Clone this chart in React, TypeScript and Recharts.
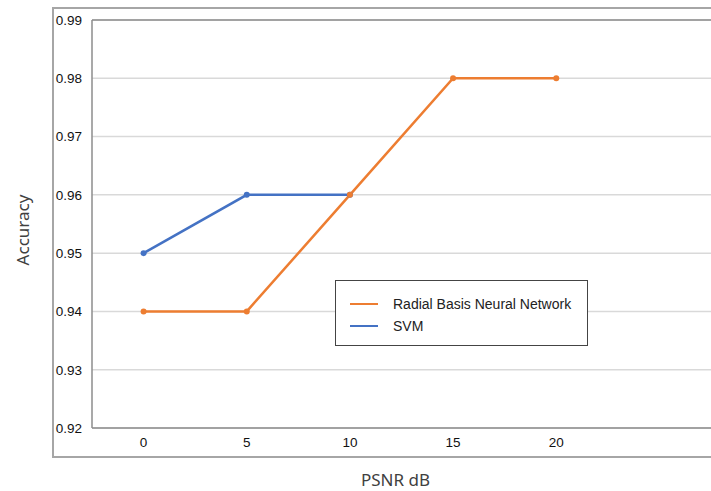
import { LineChart, Line, XAxis, YAxis, CartesianGrid, Label, ReferenceLine } from 'recharts'

const psnr = [0, 5, 10, 15, 20]
const rbnn = [0.94, 0.94, 0.96, 0.98, 0.98]
const svm = [0.95, 0.96, 0.96, null, null]
const yTicks = [0.92, 0.93, 0.94, 0.95, 0.96, 0.97, 0.98, 0.99]

const ORANGE = '#ED7D31'
const BLUE = '#4472C4'
const FONT = '"Liberation Sans", Arial, sans-serif'

const data = psnr.map((x, i) => ({ x, rbnn: rbnn[i], svm: svm[i] }))

// legend sits over the plot, drawn as a plain box
function LegendBox() {
  const items = [
    { name: 'Radial Basis Neural Network', color: ORANGE },
    { name: 'SVM', color: BLUE },
  ]
  return (
    <div style={{ position: 'absolute', left: 335, top: 280, border: '1.5px solid #444', width: 253, height: 66, boxSizing: 'border-box', paddingTop: 12, paddingLeft: 14, fontFamily: FONT, fontSize: 14, color: '#222', background: '#fff' }}>
      {items.map((it) => (
        <div key={it.name} style={{ display: 'flex', alignItems: 'center', height: 22 }}>
          <span style={{ display: 'inline-block', width: 28, height: 2.5, background: it.color, marginRight: 15 }} />
          {it.name}
        </div>
      ))}
    </div>
  )
}

export default function App() {
  return (
    <div style={{ position: 'absolute', left: 0, top: 0, width: 711, height: 491, overflow: 'hidden', background: '#fff' }}>
      <div style={{ position: 'absolute', left: 52, top: 7, width: 720, height: 447, border: '2px solid #a6a6a6' }} />
      <div style={{ position: 'absolute', left: 0, top: 0 }}>
        <LineChart width={711} height={491} data={data} margin={{ top: 20, right: 0, bottom: 0, left: 0 }}>
          <CartesianGrid horizontal vertical={false} stroke="#d9d9d9" strokeWidth={1.5} />
          <XAxis
            dataKey="x"
            type="number"
            domain={[-2.5, 27.5]}
            ticks={psnr}
            height={63}
            axisLine={{ stroke: '#8c8c8c', strokeWidth: 1.5 }}
            tickLine={false}
            tickSize={0}
            tickMargin={9}
            tick={{ fill: '#111', fontSize: 13.5, fontFamily: FONT }}
          >
            <Label value="PSNR dB" position="insideBottom" offset={5} dx={-6} style={{ fill: '#404040', fontSize: 17, fontFamily: '"Noto Sans", sans-serif' }} />
          </XAxis>
          <YAxis
            type="number"
            domain={[0.92, 0.99]}
            ticks={yTicks}
            width={92}
            axisLine={{ stroke: '#8c8c8c', strokeWidth: 1.5 }}
            tickLine={false}
            tickSize={0}
            tickMargin={10}
            tick={{ fill: '#111', fontSize: 13.5, fontFamily: FONT }}
            tickFormatter={(v: number) => v.toFixed(2)}
          >
            <Label
              content={() => (
                <text x={22} y={230} transform="rotate(-90 22 230)" textAnchor="middle" dominantBaseline="central" style={{ fill: '#404040', fontSize: 17, fontFamily: '"Noto Sans", sans-serif' }}>
                  Accuracy
                </text>
              )}
            />
          </YAxis>
          <ReferenceLine y={0.99} stroke="#8c8c8c" strokeWidth={1.5} />
          <Line type="linear" dataKey="svm" name="SVM" stroke={BLUE} strokeWidth={2.5} dot={{ r: 3, fill: BLUE, stroke: BLUE, strokeWidth: 0 }} isAnimationActive={false} />
          <Line type="linear" dataKey="rbnn" name="Radial Basis Neural Network" stroke={ORANGE} strokeWidth={2.5} dot={{ r: 3, fill: ORANGE, stroke: ORANGE, strokeWidth: 0 }} isAnimationActive={false} />
        </LineChart>
      </div>
      <LegendBox />
    </div>
  )
}
